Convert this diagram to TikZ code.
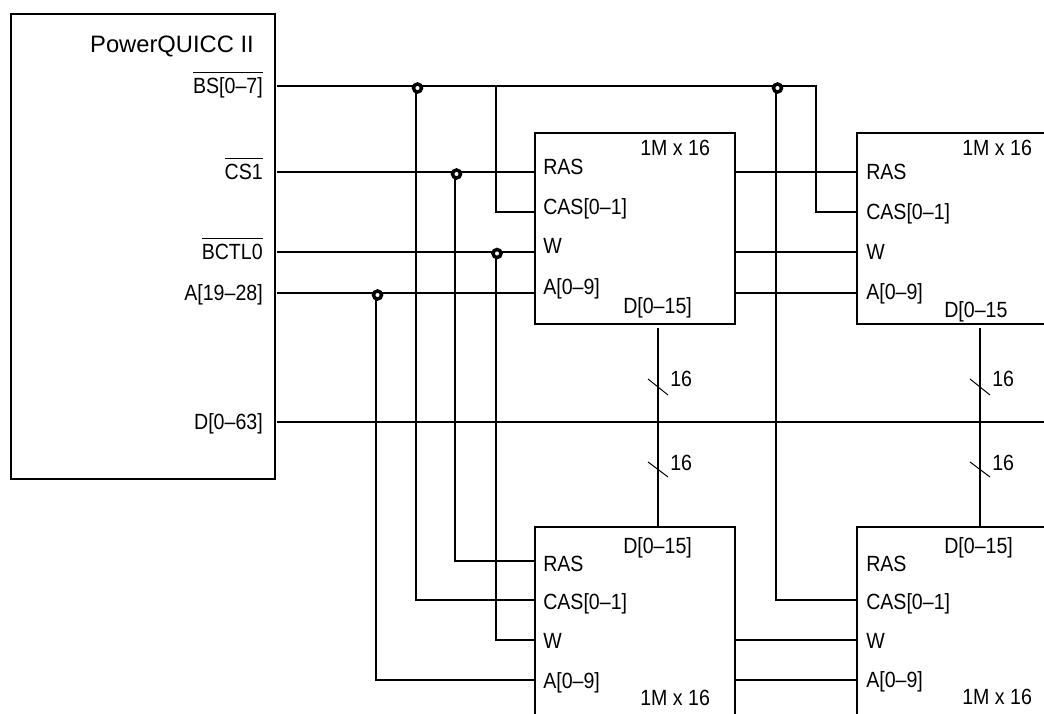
\documentclass[tikz,border=0pt]{standalone}
\usepackage{fontspec}
\setmainfont{Liberation Sans}
\newfontfamily\pinfont[FakeStretch=0.89]{Liberation Sans}
\tikzset{
  wire/.style={line width=1.25pt},
  tick/.style={line width=0.75pt},
  hostbox/.style={draw, line width=1.4pt, minimum width=198pt, minimum height=348.75pt},
  membox/.style={draw, line width=1.4pt, minimum width=150pt, minimum height=143.25pt},
  pin/.style={inner sep=0pt, font=\pinfont\fontsize{16.5}{18}\selectfont, anchor=mid west, yshift=-3pt},
  hostpin/.style={pin, anchor=mid east},
  dot/.style={circle, draw, line width=2.6pt, inner sep=0pt, minimum size=6pt, fill=white}
}
\newcommand{\barred}[1]{$\overline{\mbox{\rule{0pt}{14.2pt}#1}}$}
\begin{document}
\begin{tikzpicture}[x=0.75pt, y=-0.75pt]
\useasboundingbox (0,0) rectangle (1044,713);
\clip (0,0) rectangle (1044,713);

% Blocks
\node[hostbox] (host) at (143,246.5) {};
\node[membox] (m1) at (635,228.5) {};
\node[membox] (m2) at (957,228.5) {};
\node[membox] (m3) at (635,622.5) {};
\node[membox] (m4) at (957,622.5) {};

\node[inner sep=0pt, font=\fontsize{17.8}{19}\selectfont, anchor=east] (title) at (254,46) {PowerQUICC II};
\node[hostpin] (bs) at (263,86) {\barred{BS[0–7]}};
\node[hostpin] (cs) at (263,172) {\barred{CS1}};
\node[hostpin] (bctl) at (263,252) {\barred{BCTL0}};
\node[hostpin] (addr) at (263,293) {A[19–28]};
\node[hostpin] (data) at (263,422) {D[0–63]};

% Pin labels
\node[pin] (m1ras) at (543,167) {RAS};
\node[pin] (m1cas) at (543,207) {CAS[0–1]};
\node[pin] (m1w) at (543,246) {W};
\node[pin] (m1a) at (543,287) {A[0–9]};
\node[pin] (m1d) at (623,306) {D[0–15]};
\node[pin] (m1s) at (640,148) {1M x 16};

\node[pin] (m2ras) at (866,172) {RAS};
\node[pin] (m2cas) at (866,212) {CAS[0–1]};
\node[pin] (m2w) at (866,252) {W};
\node[pin] (m2a) at (866,292) {A[0–9]};
\node[pin] (m2d) at (944,310) {D[0–15};
\node[pin] (m2s) at (962,148) {1M x 16};

\node[pin] (m3d) at (623,546) {D[0–15]};
\node[pin] (m3ras) at (543,564) {RAS};
\node[pin] (m3cas) at (543,602) {CAS[0–1]};
\node[pin] (m3w) at (543,641) {W};
\node[pin] (m3a) at (543,681) {A[0–9]};
\node[pin] (m3s) at (640,698) {1M x 16};

\node[pin] (m4d) at (944,546) {D[0–15]};
\node[pin] (m4ras) at (866,564) {RAS};
\node[pin] (m4cas) at (866,602) {CAS[0–1]};
\node[pin] (m4w) at (866,641) {W};
\node[pin] (m4a) at (866,680) {A[0–9]};
\node[pin] (m4s) at (962,697) {1M x 16};

% Wire end points
\coordinate (bsout) at (277,86);
\coordinate (csout) at (277,172);
\coordinate (bctlout) at (277,252);
\coordinate (addrout) at (277,293);
\coordinate (dataout) at (277,422);
\coordinate (dataend) at (1044,422);
\coordinate (bsturn) at (816,86);
\coordinate (m1top) at (658,328);
\coordinate (m2top) at (980,328);
\coordinate (rowcas) at (0,212);
\coordinate (rowras) at (0,561);
\coordinate (rowcasb) at (0,600);
\coordinate (roww) at (0,640);
\coordinate (rowa) at (0,680);

% Junctions
\coordinate (j1) at (416,86);
\coordinate (j2) at (455,172);
\coordinate (j3) at (496,252);
\coordinate (j4) at (376,293);
\coordinate (j5) at (776,86);
\coordinate (j6) at (496,86);

\draw[wire] (bsout) -- (bsturn) |- (m2.west |- rowcas);
\draw[wire] (j6) |- (m1.west |- rowcas);
\draw[wire] (csout) -- (m1.west |- csout);
\draw[wire] (bctlout) -- (m1.west |- bctlout);
\draw[wire] (addrout) -- (m1.west |- addrout);
\draw[wire] (dataout) -- (dataend);

\draw[wire] (j1) |- (m3.west |- rowcasb);
\draw[wire] (j2) |- (m3.west |- rowras);
\draw[wire] (j3) |- (m3.west |- roww);
\draw[wire] (j4) |- (m3.west |- rowa);
\draw[wire] (j5) |- (m4.west |- rowcasb);

\draw[wire] (m1.east |- csout) -- (m2.west |- csout);
\draw[wire] (m1.east |- bctlout) -- (m2.west |- bctlout);
\draw[wire] (m1.east |- addrout) -- (m2.west |- addrout);
\draw[wire] (m3.east |- roww) -- (m4.west |- roww);
\draw[wire] (m3.east |- rowa) -- (m4.west |- rowa);

\draw[wire] (m1top) -- (m3.north -| m1top);
\draw[wire] (m2top) -- (m4.north -| m2top);

\node[dot] (d1) at (417.5,88) {};
\node[dot] (d2) at (456.5,174) {};
\node[dot] (d3) at (497,253.5) {};
\node[dot] (d4) at (377.5,295) {};
\node[dot] (d5) at (777.5,88) {};

% Bus width marks
\foreach \x/\n in {658/a,980/b} {
  \draw[tick] (\x-10,379) -- (\x+10,395);
  \draw[tick] (\x-10,462) -- (\x+10,477);
  \node[pin] (up\n) at (\x+12,379) {16};
  \node[pin] (dn\n) at (\x+12,463) {16};
}
\end{tikzpicture}
\end{document}
